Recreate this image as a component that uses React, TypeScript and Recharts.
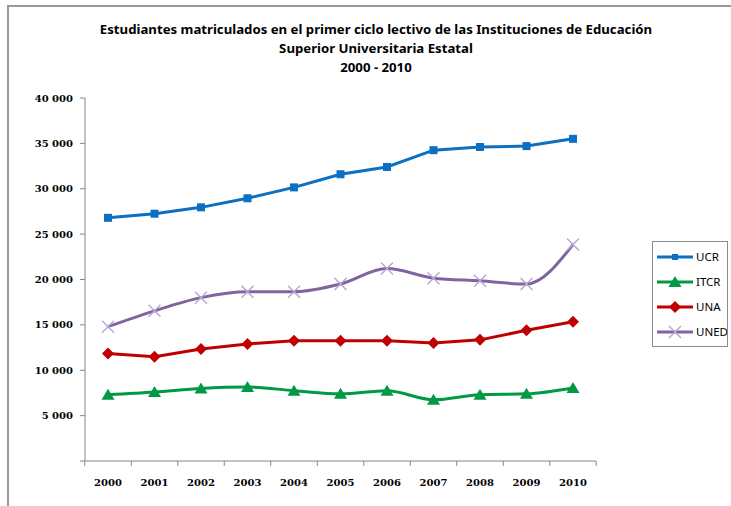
import React from "react";
import { LineChart, Line, XAxis, YAxis } from "recharts";

const years = ["2000", "2001", "2002", "2003", "2004", "2005", "2006", "2007", "2008", "2009", "2010"];
const ucr = [26800, 27250, 27950, 28950, 30150, 31600, 32400, 34250, 34600, 34700, 35500];
const itcr = [7300, 7600, 8000, 8150, 7750, 7400, 7750, 6750, 7300, 7400, 8050];
const una = [11850, 11500, 12350, 12900, 13250, 13250, 13250, 13000, 13350, 14400, 15350];
const uned = [14800, 16550, 18000, 18650, 18650, 19500, 21200, 20150, 19850, 19500, 23850];
const yTicks = [0, 5000, 10000, 15000, 20000, 25000, 30000, 35000, 40000];

const data = years.map((y, i) => ({
  year: y,
  UCR: ucr[i],
  ITCR: itcr[i],
  UNA: una[i],
  UNED: uned[i],
}));

const BLUE = "#0b6fc2";
const GREEN = "#009a47";
const RED = "#c00000";
const PURPLE = "#8064a2";
const LIGHT_PURPLE = "#b7a6d3";
const AXIS = "#868686";
const TICK_FONT = { fontFamily: "DejaVu Serif", fontWeight: 700, fontSize: 10, fill: "#000" };

const Square = ({ cx, cy, size = 8 }: any) => (
  <rect x={cx - size / 2} y={cy - size / 2} width={size} height={size} fill={BLUE} />
);
const Triangle = ({ cx, cy }: any) => (
  <polygon points={`${cx},${cy - 6} ${cx - 6.5},${cy + 5} ${cx + 6.5},${cy + 5}`} fill={GREEN} />
);
const Diamond = ({ cx, cy }: any) => (
  <polygon points={`${cx},${cy - 6} ${cx + 6},${cy} ${cx},${cy + 6} ${cx - 6},${cy}`} fill={RED} />
);
const Cross = ({ cx, cy }: any) => (
  <g stroke={LIGHT_PURPLE} strokeWidth={1.4}>
    <line x1={cx - 6} y1={cy - 6} x2={cx + 6} y2={cy + 6} />
    <line x1={cx - 6} y1={cy + 6} x2={cx + 6} y2={cy - 6} />
  </g>
);

const series = [
  { key: "UCR", color: BLUE, Marker: Square, type: "linear" },
  { key: "ITCR", color: GREEN, Marker: Triangle, type: "monotone" },
  { key: "UNA", color: RED, Marker: Diamond, type: "linear" },
  { key: "UNED", color: PURPLE, Marker: Cross, type: "monotone" },
];

// ticks between categories, like the spreadsheet
const XTick = (props: any) => {
  const { x, y, payload, index, visibleTicksCount } = props;
  const band = 511 / years.length;
  const last = index === (visibleTicksCount ?? years.length) - 1;
  return (
    <g>
      <line x1={x - band / 2} y1={y} x2={x - band / 2} y2={y + 5} stroke={AXIS} />
      {last && <line x1={x + band / 2} y1={y} x2={x + band / 2} y2={y + 5} stroke={AXIS} />}
      <text x={x} y={y + 18} dy="0.71em" textAnchor="middle" {...TICK_FONT}>
        {payload.value}
      </text>
    </g>
  );
};

const fmt = (v: number) => (v === 0 ? "" : v.toString().replace(/\B(?=(\d{3})+(?!\d))/g, " "));

const LegendBox = () => (
  <div
    style={{
      position: "absolute",
      left: 652,
      top: 241,
      width: 76,
      height: 106,
      border: "1px solid #8a8a8a",
      boxSizing: "border-box",
      background: "#fff",
    }}
  >
    <svg width={74} height={104} style={{ display: "block" }}>
      {series.map((s, i) => {
        const cy = 15 + i * 25;
        const M = s.Marker;
        return (
          <g key={s.key}>
            <line x1={4} y1={cy} x2={40} y2={cy} stroke={s.color} strokeWidth={3} />
            <M cx={22} cy={cy} size={6} />
            <text x={43} y={cy + 4} fontFamily="Noto Sans" fontSize={11.5} fill="#000">
              {s.key}
            </text>
          </g>
        );
      })}
    </svg>
  </div>
);

export default function App() {
  return (
    <div style={{ position: "absolute", left: 0, top: 0, width: 731, height: 506, background: "#fff", overflow: "hidden" }}>
      <div
        style={{
          position: "absolute",
          left: 7,
          top: 5,
          width: 800,
          height: 600,
          border: "2px solid #999",
        }}
      />
      <div
        style={{
          position: "absolute",
          left: 0,
          top: 20,
          width: 752,
          textAlign: "center",
          fontFamily: "Noto Sans",
          fontWeight: 700,
          fontSize: 13.2,
          lineHeight: "19px",
          color: "#000",
        }}
      >
        <div>Estudiantes matriculados en el primer ciclo lectivo de las Instituciones de Educación</div>
        <div>Superior Universitaria Estatal</div>
        <div>2000 - 2010</div>
      </div>
      <div style={{ position: "absolute", left: 0, top: 0 }}>
        <LineChart width={731} height={506} data={data} margin={{ top: 98, right: 135, bottom: 0, left: 0 }}>
          <XAxis
            dataKey="year"
            stroke={AXIS}
            tickLine={false}
            tick={<XTick />}
            tickSize={0}
            tickMargin={0}
            height={45}
            interval={0}
            padding={{ left: 23, right: 23 }}
          />
          <YAxis
            domain={[0, 40000]}
            ticks={yTicks}
            tickFormatter={fmt}
            stroke={AXIS}
            tickSize={5}
            tickMargin={7}
            width={85}
            tick={TICK_FONT}
            interval={0}
          />
          {series.map((s) => (
            <Line
              key={s.key}
              type={s.type as any}
              dataKey={s.key}
              stroke={s.color}
              strokeWidth={3}
              isAnimationActive={false}
              dot={(p: any) => <s.Marker key={`${s.key}-${p.index}`} cx={p.cx} cy={p.cy} />}
              activeDot={false}
            />
          ))}
        </LineChart>
      </div>
      <LegendBox />
    </div>
  );
}
